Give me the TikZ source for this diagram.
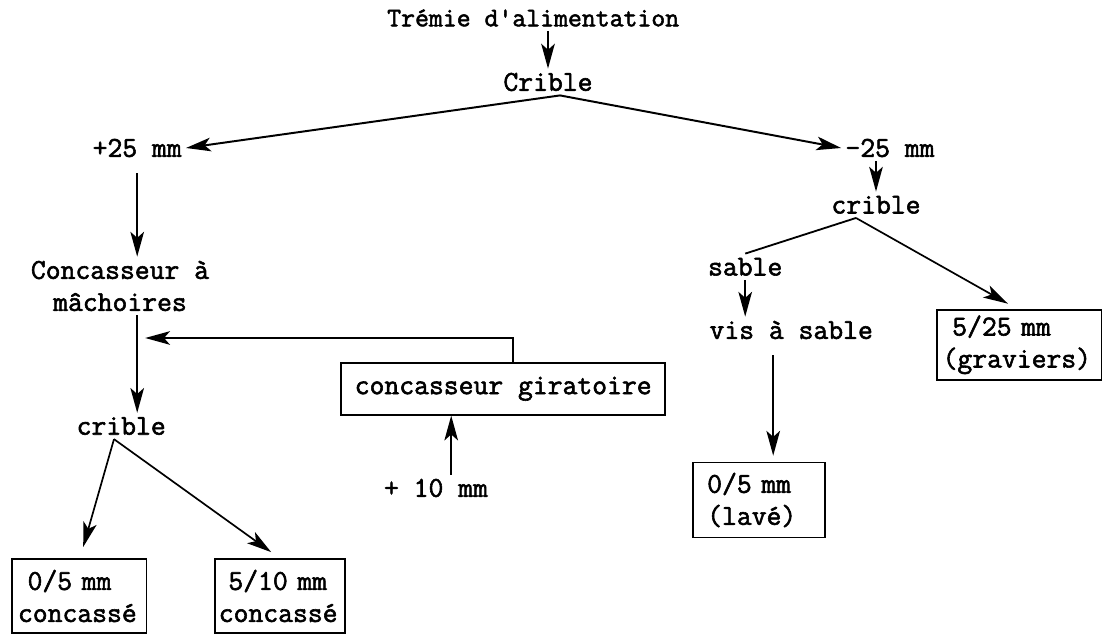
\documentclass[tikz,border=0pt]{standalone}
\usepackage{fontspec}
\setmonofont{Latin Modern Mono}[FakeBold=2]
\usetikzlibrary{arrows.meta,positioning,calc}

\tikzset{
  lbl/.style={font=\ttfamily\fontsize{20.5}{22.8}\selectfont, inner sep=1mm, align=center},
  boite/.style={lbl, draw, line width=1.2pt, align=left, inner xsep=1.5mm},
  fl/.style={-{Stealth[length=6.2mm,width=3.4mm,inset=1.5mm]}, line width=1.2pt},
  trait/.style={line width=1.3pt},
}

\begin{document}
\begin{tikzpicture}
\useasboundingbox (0,0) rectangle (27.575,15.85);

% alimentation
\node[lbl,font=\ttfamily\fontsize{19.2}{22}\selectfont] (tremie) at (13.33,15.4) {Trémie d'alimentation};
\node[lbl] (crible) at (13.7,13.8) {Crible};
\draw[fl] (tremie.south -| crible) -- (crible.north);

\node[lbl] (gros) at (3.43,12.15) {+25 mm};
\node[lbl] (fin) at (22.25,12.15) {-25 mm};
\draw[fl,line width=1.4pt] ([xshift=3mm]crible.south) -- (gros.east);
\draw[fl,line width=1.4pt] ([xshift=3mm]crible.south) -- (fin.west);

% branche +25 mm
\node[lbl] (machoire) at (3.0,8.7) {Concasseur à\\mâchoires};
\node[lbl] (criblel) at (3.03,5.2) {crible};
\draw[fl,shorten <=3mm] (gros.south) -- (gros.south |- machoire.north);
\draw[fl] (machoire.south -| gros) -- (criblel.north -| gros);

\node[boite, inner xsep=3.4mm, minimum height=1.3cm] (girat) at (12.58,6.13) {concasseur giratoire};
\node[lbl] (dix) at (10.9,3.65) {+ 10 mm};
\coordinate (retour) at (3.63,7.4);
\draw[fl] ([xshift=2.5mm]girat.north) |- (retour);
\draw[fl] ([xshift=3.8mm]dix.north) -- ([xshift=3.8mm]dix.north |- girat.south);

\node[boite, text width=3.06cm, minimum height=1.85cm] (conc05) at (1.98,0.95) {\ 0/5 mm\\concassé};
\node[boite, text width=3.06cm, inner xsep=1mm, minimum height=1.85cm] (conc510) at (7.0,0.95) {\ 5/10 mm\\concassé};
\coordinate (fourche) at ([xshift=-1.8mm]criblel.south);
\draw[fl] (fourche) -- ([xshift=1mm,yshift=2.8mm]conc05.north);
\draw[fl] (fourche) -- ([xshift=-2.2mm,yshift=1.5mm]conc510.north);

% branche -25 mm
\node[lbl] (criblef) at (21.9,10.73) {crible};
\draw[fl] (criblef.north |- fin.south) -- (criblef.north);
\node[lbl] (sable) at (18.63,9.18) {sable};
\node[lbl] (vis) at (19.78,7.6) {vis à sable};
\node[boite, text width=2.6cm, inner xsep=3.5mm, minimum height=1.875cm] (lave) at (18.98,3.35) {0/5 mm\\(lavé)};
\node[boite, text width=3.83cm, inner xsep=1.4mm, minimum height=1.75cm] (grav) at (25.48,7.23) {\ 5/25 mm\\(graviers)};
\coordinate (fourche2) at ([xshift=-5mm]criblef.south);
\draw[trait] (fourche2) -- (sable.north);
\draw[fl] (fourche2) -- ([xshift=-2.8mm,yshift=1.3mm]grav.north);
\draw[fl] (sable.south) -- (sable.south |- vis.north);
\draw[fl,shorten <=3mm,shorten >=1.5mm] ([xshift=-4.5mm]vis.south) -- ([xshift=-4.5mm]vis.south |- lave.north);
\end{tikzpicture}
\end{document}
